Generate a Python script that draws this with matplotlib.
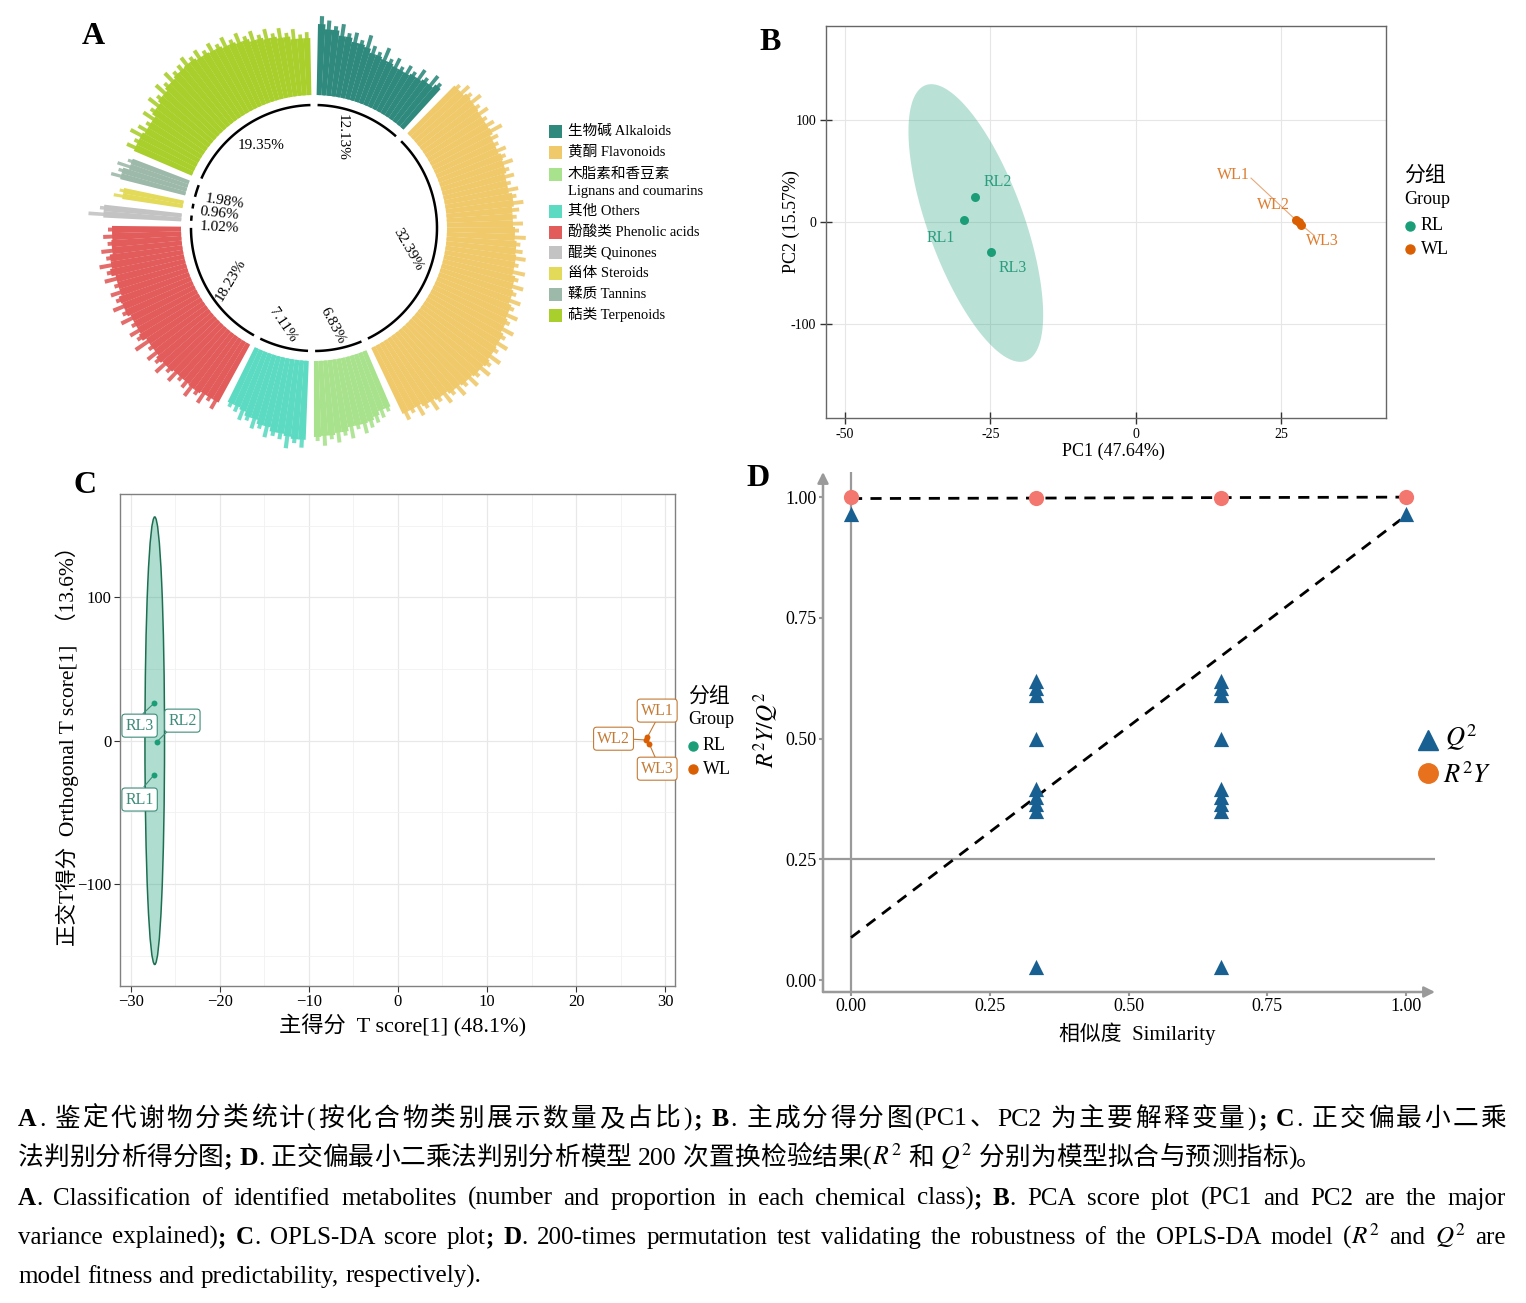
import numpy as np
import matplotlib
matplotlib.use('Agg')
import matplotlib.pyplot as plt
from matplotlib.patches import Ellipse, Rectangle
from matplotlib.lines import Line2D
from matplotlib.ticker import FixedLocator

plt.rcParams['font.family'] = ['Liberation Serif', 'Noto Sans CJK SC', 'DejaVu Sans']
plt.rcParams['mathtext.fontset'] = 'stix'
plt.rcParams['axes.unicode_minus'] = True

# ------------------------------------------------------------------ data
# Panel A: metabolite classes
classes_cn = ['生物碱', '黄酮', '木脂素和香豆素', '其他', '酚酸类', '醌类', '甾体', '鞣质', '萜类']
classes_en = ['Alkaloids', 'Flavonoids', 'Lignans and coumarins', 'Others',
              'Phenolic acids', 'Quinones', 'Steroids', 'Tannins', 'Terpenoids']
class_pct = [12.13, 32.39, 6.83, 7.11, 18.23, 1.02, 0.96, 1.98, 19.35]
alk_len = [79, 75, 70, 73, 65, 67, 61, 68, 59, 55, 62, 53, 57, 51, 56, 53, 60, 55, 63, 59]
flav_len = [71, 77, 74, 80, 73, 78, 72, 76, 81, 73, 70, 75, 72, 77, 71, 74, 69, 75, 72, 78,
            73, 70, 76, 72, 79, 74, 77, 81, 75, 83, 78, 85, 80, 87, 83, 90, 85, 93, 88, 95,
            89, 97, 91, 96, 89, 94, 87, 92, 85, 89, 82, 87, 80, 84, 77, 81]
lign_len = [65, 69, 72, 75, 79, 73, 81, 77, 83, 79, 85, 80]
oth_len = [87, 83, 89, 81, 79, 82, 75, 77, 71, 73, 67, 65]
phen_len = [75, 70, 77, 72, 79, 74, 71, 78, 73, 81, 75, 79, 72, 83, 76, 80, 74, 82, 77, 84,
            78, 81, 75, 83, 79, 85, 77, 81, 74, 78, 73]
quin_len = [93, 82]
ster_len = [70, 65]
tann_len = [77, 71, 74, 65]
terp_len = [72, 67, 75, 70, 65, 73, 69, 77, 72, 80, 75, 82, 77, 79, 83, 78, 81, 76, 80, 75,
            79, 73, 77, 71, 74, 68, 72, 66, 70, 64, 67, 61, 63]
class_bars = [alk_len, flav_len, lign_len, oth_len, phen_len, quin_len, ster_len, tann_len, terp_len]

# Panel B: PCA scores
pca_samples = ['RL1', 'RL2', 'RL3', 'WL1', 'WL2', 'WL3']
pca_groups = ['RL', 'RL', 'RL', 'WL', 'WL', 'WL']
pc1 = [-29.6, -27.7, -24.9, 27.6, 28.0, 28.4]
pc2 = [2.0, 24.5, -29.4, 1.5, 0.0, -2.5]
pca_ellipse_center = (-27.5, -1.0)
pca_ellipse_cov = [[134.0, -1040.0], [-1040.0, 18496.0]]

# Panel C: OPLS-DA scores
opls_samples = ['RL1', 'RL2', 'RL3', 'WL1', 'WL2', 'WL3']
opls_groups = ['RL', 'RL', 'RL', 'WL', 'WL', 'WL']
t_score = [-27.4, -27.1, -27.4, 28.0, 27.9, 28.2]
to_score = [-24.0, -1.0, 26.0, 2.5, 0.5, -2.0]
opls_ellipse_center = (-27.3, 0.0)
opls_ellipse_halfaxes = (1.1, 156.0)

# Panel D: permutation test
r2y_sim = [0.0, 0.333, 0.667, 1.0]
r2y_val = [1.0, 0.999, 0.999, 1.0]
q2_sim = [0.0] + [0.333] * 9 + [0.667] * 9 + [1.0]
q2_val = ([0.965] + [0.62, 0.605, 0.59, 0.50, 0.395, 0.378, 0.365, 0.35, 0.027]
          + [0.62, 0.605, 0.59, 0.50, 0.395, 0.378, 0.365, 0.35, 0.027] + [0.965])
r2y_line = (0.997, 1.0)   # value at sim=0, value at sim=1
q2_line = (0.088, 0.962)

# ------------------------------------------------------------------ layout helpers
W, H = 1526, 1303
fig = plt.figure(figsize=(W / 100, H / 100), dpi=100)
fig.patch.set_facecolor('white')


def fx(x):
    return x / W


def fy(y):
    return 1 - y / H


def rect(l, t, r, b):
    return [l / W, 1 - b / H, (r - l) / W, (b - t) / H]


GREEN = '#1B9E77'
ORANGE = '#D95F02'
grp_color = {'RL': GREEN, 'WL': ORANGE}

# ------------------------------------------------------------------ Panel A
class_colors = ['#2F8A7D', '#F0C96B', '#A8E28C', '#5CDBC2', '#E15C5B',
                '#C3C3C3', '#E2DA58', '#9DB9A9', '#A9CF2C']
CX, CY, RAD = 314, 228, 235
axA = fig.add_axes(rect(CX - RAD, CY - RAD, CX + RAD, CY + RAD), projection='polar')
axA.set_theta_zero_location('N')
axA.set_theta_direction(-1)
axA.set_ylim(0, RAD)
axA.axis('off')
BASE = 133
RING = 123
GAP = 2.3
avail = 360 - GAP * len(class_pct)
start = GAP / 2
for pct, bars, col in zip(class_pct, class_bars, class_colors):
    span = pct / 100 * avail
    b = np.asarray(bars, dtype=float)
    n = len(b)
    w = span / n
    th = np.deg2rad(start + w * (np.arange(n) + 0.5))
    # solid body follows the local minimum of neighbouring metabolite bars
    padded = np.concatenate([[b[0]], b, [b[-1]]])
    core = np.minimum(np.minimum(padded[:-2], padded[1:-1]), padded[2:]) - 4
    axA.bar(th, core, width=np.deg2rad(w) * 1.03, bottom=BASE, color=col, linewidth=0)
    # thin metabolite spikes on top
    axA.bar(th, b, width=np.deg2rad(w) * 0.55, bottom=BASE, color=col, linewidth=0,
            alpha=0.9)
    arc = np.deg2rad(np.linspace(start + 0.5, start + span - 0.5, 60))
    axA.plot(arc, np.full_like(arc, RING), color='black', lw=1.8, solid_capstyle='butt')
    start += span + GAP

# label placement per class: (theta deg, r, rotation, ha)
label_for_class = {0: (17, 95, -90, 'center'), 1: (103, 96, -60, 'center'),
                   2: (169, 100, -62, 'center'), 3: (198, 102, -56, 'center'),
                   4: (238, 98, 59, 'center'), 7: (285, 113, -9, 'left'),
                   6: (278, 115, -6, 'left'), 5: (271, 114, -3, 'left'),
                   8: (327, 98, 0, 'center')}
for k, (th, r, rot, ha) in label_for_class.items():
    axA.text(np.deg2rad(th), r, f'{class_pct[k]:.2f}%', rotation=rot, ha=ha, va='center',
             fontsize=11, rotation_mode='anchor')

# legend A
leg_rows = [131, 152, 174, 211, 232, 252, 273, 294, 315]
for i, (cn, en, col) in enumerate(zip(classes_cn, classes_en, class_colors)):
    y = leg_rows[i]
    fig.add_artist(Rectangle((fx(549), fy(y + 6.5)), 13 / W, 13 / H, transform=fig.transFigure,
                             facecolor=col, edgecolor='none'))
    if i == 2:
        fig.text(fx(568), fy(y), cn, fontsize=10.5, va='center', ha='left')
        fig.text(fx(568), fy(y + 18), en, fontsize=10.5, va='center', ha='left')
    else:
        fig.text(fx(568), fy(y), cn + ' ' + en, fontsize=10.5, va='center', ha='left')

# ------------------------------------------------------------------ Panel B
axB = fig.add_axes(rect(826, 26, 1386, 418))
axB.set_xlim(-53.25, 43.0)
axB.set_ylim(-192, 192)
L = np.linalg.cholesky(np.array(pca_ellipse_cov))
tt = np.linspace(0, 2 * np.pi, 240)
ell = L @ np.vstack([np.cos(tt), np.sin(tt)])
axB.fill(ell[0] + pca_ellipse_center[0], ell[1] + pca_ellipse_center[1], color=GREEN,
         alpha=0.3, lw=0, zorder=1)
for s, g, x, y in zip(pca_samples, pca_groups, pc1, pc2):
    axB.scatter(x, y, s=42, color=grp_color[g], zorder=3, linewidths=0)
pca_lbl_pos = {'RL1': (-33.6, -15.7), 'RL2': (-23.8, 39.2), 'RL3': (-21.1, -45),
               'WL1': (16.8, 46), 'WL2': (23.6, 16.7), 'WL3': (32.0, -18.6)}
pca_lbl_col = {'RL': '#2A9D7E', 'WL': '#DE7C2E'}
for s, g in zip(pca_samples, pca_groups):
    lx, ly = pca_lbl_pos[s]
    axB.text(lx, ly, s, color=pca_lbl_col[g], fontsize=11.5, ha='center', va='center', zorder=4)
axB.plot([19.8, pc1[3]], [43, pc2[3]], color='#E8A878', lw=0.8, zorder=2)
axB.plot([pc1[5], 30.6], [pc2[5], -13], color='#E8A878', lw=0.8, zorder=2)
axB.set_xticks([-50, -25, 0, 25])
axB.set_xticklabels(['-50', '-25', '0', '25'])
axB.set_yticks([-100, 0, 100])
axB.set_yticklabels(['-100', '0', '100'])
axB.grid(True, color='#E6E6E6', lw=0.8)
axB.set_axisbelow(True)
for sp in axB.spines.values():
    sp.set_color('#666666')
    sp.set_linewidth(1)
axB.tick_params(direction='inout', length=8, width=1, color='#333333', labelsize=10, pad=3)
fig.text(fx(1113), fy(451), 'PC1 (47.64%)', fontsize=13, ha='center', va='center')
fig.text(fx(791), fy(222), 'PC2 (15.57%)', fontsize=13, ha='center', va='center', rotation=90)

# legend B
fig.text(fx(1425), fy(176), '分组', fontsize=15, ha='center', va='center')
fig.text(fx(1427), fy(200), 'Group', fontsize=13, ha='center', va='center')
for yy, g in zip([226, 249], ['RL', 'WL']):
    fig.add_artist(Line2D([fx(1410)], [fy(yy)], marker='o', ms=6.5, color=grp_color[g],
                          lw=0, transform=fig.transFigure))
    fig.text(fx(1421), fy(yy), g, fontsize=13, ha='left', va='center')

# ------------------------------------------------------------------ Panel C
axC = fig.add_axes(rect(120, 494, 675, 986))
axC.set_xlim(-31.2, 31.1)
axC.set_ylim(-171, 172)
axC.add_patch(Ellipse(opls_ellipse_center, 2 * opls_ellipse_halfaxes[0],
                      2 * opls_ellipse_halfaxes[1], facecolor=(0.106, 0.62, 0.467, 0.35),
                      edgecolor='#1E6F52', lw=1.1, zorder=2))
for s, g, x, y in zip(opls_samples, opls_groups, t_score, to_score):
    axC.scatter(x, y, s=18, color=grp_color[g], zorder=4, linewidths=0)
opls_lbl_pos = {'RL1': (-29.0, -41), 'RL2': (-24.2, 14), 'RL3': (-29.0, 10.5),
                'WL1': (29.1, 21), 'WL2': (24.2, 1.4), 'WL3': (29.1, -19.5)}
opls_seg_end = {'RL1': (-28.5, -32), 'RL2': (-25.8, 7), 'RL3': (-28.6, 19),
                'WL1': (28.9, 13), 'WL2': (25.9, 1.2), 'WL3': (28.9, -12)}
lbl_col = {'RL': '#3D8C7A', 'WL': '#C47A35'}
for s, g, x, y in zip(opls_samples, opls_groups, t_score, to_score):
    ex, ey = opls_seg_end[s]
    axC.plot([x, ex], [y, ey], color=lbl_col[g], lw=0.8, zorder=3)
    lx, ly = opls_lbl_pos[s]
    axC.text(lx, ly, s, color=lbl_col[g], fontsize=11.5, ha='center', va='center', zorder=5,
             bbox=dict(boxstyle='round,pad=0.22,rounding_size=0.2', fc='white',
                       ec=lbl_col[g], lw=0.8))
axC.xaxis.set_major_locator(FixedLocator([-30, -20, -10, 0, 10, 20, 30]))
axC.xaxis.set_minor_locator(FixedLocator([-25, -15, -5, 5, 15, 25]))
axC.yaxis.set_major_locator(FixedLocator([-100, 0, 100]))
axC.yaxis.set_minor_locator(FixedLocator([-150, -50, 50, 150]))
axC.grid(True, which='major', color='#E8E8E8', lw=0.9)
axC.grid(True, which='minor', color='#F1F1F1', lw=0.6)
axC.set_axisbelow(True)
for sp in axC.spines.values():
    sp.set_color('#808080')
    sp.set_linewidth(1)
axC.tick_params(which='major', direction='out', length=4, width=0.8, color='#333333',
                labelsize=12, pad=2)
axC.tick_params(which='minor', length=0)
fig.text(fx(403), fy(1026), '主得分  T score[1] (48.1%)', fontsize=16, ha='center', va='center')
fig.text(fx(67), fy(741), '正交T得分  Orthogonal T score[1]  （13.6%）', fontsize=15.5,
         ha='center', va='center', rotation=90)

fig.text(fx(709), fy(697), '分组', fontsize=15, ha='center', va='center')
fig.text(fx(711), fy(720), 'Group', fontsize=13, ha='center', va='center')
for yy, g in zip([746, 769], ['RL', 'WL']):
    fig.add_artist(Line2D([fx(693)], [fy(yy)], marker='o', ms=6.5, color=grp_color[g],
                          lw=0, transform=fig.transFigure))
    fig.text(fx(703), fy(yy), g, fontsize=13, ha='left', va='center')

# ------------------------------------------------------------------ Panel D
axD = fig.add_axes(rect(823, 472, 1435, 992))
axD.set_xlim(-0.0505, 1.052)
axD.set_ylim(-0.0248, 1.052)
for sp in axD.spines.values():
    sp.set_visible(False)
GRAY = '#9A9A9A'
axD.axvline(0, color=GRAY, lw=1.6, zorder=1)
axD.axhline(0.25, color=GRAY, lw=1.6, zorder=1)
axD.annotate('', xy=(0, 1.0), xytext=(0, 0), xycoords='axes fraction',
             arrowprops=dict(arrowstyle='-|>', color=GRAY, lw=1.8, mutation_scale=16,
                             shrinkA=0, shrinkB=0))
axD.annotate('', xy=(1.0, 0), xytext=(0, 0), xycoords='axes fraction',
             arrowprops=dict(arrowstyle='-|>', color=GRAY, lw=1.8, mutation_scale=16,
                             shrinkA=0, shrinkB=0))
axD.plot([0, 1], list(r2y_line), color='black', lw=2, ls=(0, (4, 3)), zorder=2)
axD.plot([0, 0.99], [q2_line[0], q2_line[0] + 0.99 * (q2_line[1] - q2_line[0])],
         color='black', lw=2, ls=(0, (4, 3)), zorder=2)
axD.scatter(r2y_sim, r2y_val, s=120, color='#F3776E', zorder=4, linewidths=0, clip_on=False)
axD.scatter(q2_sim, q2_val, s=120, marker='^', color='#176091', zorder=3, linewidths=0,
            clip_on=False)
axD.set_xticks([0, 0.25, 0.5, 0.75, 1.0])
axD.set_xticklabels(['0.00', '0.25', '0.50', '0.75', '1.00'])
axD.set_yticks([0, 0.25, 0.5, 0.75, 1.0])
axD.set_yticklabels(['0.00', '0.25', '0.50', '0.75', '1.00'])
axD.tick_params(direction='out', length=3, width=1.5, color=GRAY, labelsize=13, pad=1.5)
fig.text(fx(1137), fy(1034), '相似度  Similarity', fontsize=15, ha='center', va='center')
fig.text(fx(766), fy(730), '$R^2Y/Q^2$', fontsize=17, ha='center', va='center', rotation=90)
fig.add_artist(Line2D([fx(1428)], [fy(740)], marker='^', ms=15, color='#176091', lw=0,
                      transform=fig.transFigure))
fig.text(fx(1445), fy(738), '$Q^2$', fontsize=19, ha='left', va='center')
fig.add_artist(Line2D([fx(1428)], [fy(773)], marker='o', ms=14, color='#E8711E', lw=0,
                      transform=fig.transFigure))
fig.text(fx(1443), fy(775), '$R^2Y$', fontsize=19, ha='left', va='center')

# ------------------------------------------------------------------ panel letters
for letter, (x, y) in zip('ABCD', [(93, 37), (770, 42), (85, 486), (758, 479)]):
    fig.text(fx(x), fy(y), letter, fontsize=23, fontweight='bold', ha='center', va='center')

# ------------------------------------------------------------------ caption
renderer = fig.canvas.get_renderer()


def is_cjk(ch):
    return ord(ch) >= 0x2E80


def tokenize(segs):
    units = []
    sp = False
    for text, wt in segs:
        if text.startswith('$'):
            units.append((text, wt, sp))
            sp = False
            continue
        buf = ''
        bsp = sp
        for ch in text:
            if ch == ' ':
                if buf:
                    units.append((buf, wt, bsp))
                    buf = ''
                sp = True
            elif is_cjk(ch):
                if buf:
                    units.append((buf, wt, bsp))
                    buf = ''
                units.append((ch, wt, sp))
                sp = False
            else:
                if not buf:
                    bsp = sp
                    sp = False
                buf += ch
        if buf:
            units.append((buf, wt, bsp))
    return units


def text_w(t):
    return t.get_window_extent(renderer=renderer).width


def draw_line(segs, y, size, justify, mode, x0=18, x1=1506):
    units = tokenize(segs)
    arts = []
    for txt, wt, sp in units:
        a = fig.text(0, fy(y), txt, fontsize=size, fontweight=wt, ha='left', va='baseline')
        arts.append(a)
    probe1 = fig.text(0, 0, 'x x', fontsize=size)
    probe2 = fig.text(0, 0, 'xx', fontsize=size)
    spw = text_w(probe1) - text_w(probe2)
    probe1.remove()
    probe2.remove()
    widths = [text_w(a) for a in arts]
    natural = sum(widths) + spw * sum(1 for u in units[1:] if u[2])
    if mode == 'cjk':
        ngap = len(units) - 1
    else:
        ngap = sum(1 for u in units[1:] if u[2])
    extra = (x1 - x0 - natural) / ngap if (justify and ngap > 0) else 0.0
    x = x0
    for i, (a, w, u) in enumerate(zip(arts, widths, units)):
        if i > 0:
            if u[2]:
                x += spw
                if mode != 'cjk':
                    x += extra
            if mode == 'cjk':
                x += extra
        a.set_x(fx(x))
        x += w


cap1 = [('A', 'bold'), ('. 鉴定代谢物分类统计(按化合物类别展示数量及占比)', 'normal'), ('; B', 'bold'),
        ('. 主成分得分图(PC1、PC2 为主要解释变量)', 'normal'), ('; C', 'bold'), ('. 正交偏最小二乘', 'normal')]
cap2 = [('法判别分析得分图', 'normal'), ('; D', 'bold'),
        ('. 正交偏最小二乘法判别分析模型 200 次置换检验结果(', 'normal'), ('$R^2$', 'normal'),
        (' 和 ', 'normal'), ('$Q^2$', 'normal'), (' 分别为模型拟合与预测指标)。', 'normal')]
cap3 = [('A', 'bold'), ('. Classification of identified metabolites (number and proportion in each chemical class)', 'normal'),
        ('; B', 'bold'), ('. PCA score plot (PC1 and PC2 are the major', 'normal')]
cap4 = [('variance explained)', 'normal'), ('; C', 'bold'), ('. OPLS-DA score plot', 'normal'),
        ('; D', 'bold'), ('. 200-times permutation test validating the robustness of the OPLS-DA model (', 'normal'),
        ('$R^2$', 'normal'), (' and ', 'normal'), ('$Q^2$', 'normal'), (' are', 'normal')]
cap5 = [('model fitness and predictability, respectively).', 'normal')]

draw_line(cap1, 1126, 18.5, True, 'cjk')
draw_line(cap2, 1165, 18.5, False, 'cjk')
draw_line(cap3, 1205, 18, True, 'en')
draw_line(cap4, 1244, 18, True, 'en')
draw_line(cap5, 1283, 18, False, 'en')

fig.savefig('out.png', dpi=100, facecolor='white')
